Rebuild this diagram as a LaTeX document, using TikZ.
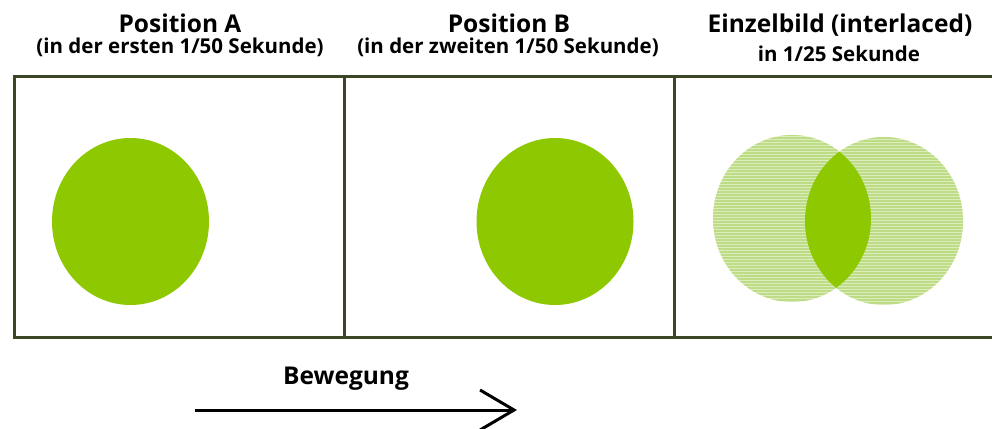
\documentclass[tikz,border=0pt]{standalone}
\usepackage{fontspec}
\setmainfont{Open Sans}
\usetikzlibrary{arrows.meta}
\definecolor{framegreen}{HTML}{3A4726}
\definecolor{ballgreen}{HTML}{8DC800}
\definecolor{palegreen}{HTML}{DCEDBC}
\definecolor{stripegreen}{HTML}{BEDC86}
\tikzset{
  title/.style={font=\bfseries\fontsize{24.5}{28}\selectfont, anchor=base, inner sep=0pt},
  subtitle/.style={font=\bfseries\fontsize{20.5}{23}\selectfont, anchor=base, inner sep=0pt},
  frameline/.style={draw=framegreen, line width=3pt},
  ball/.style={fill=ballgreen},
}
\begin{document}
\begin{tikzpicture}[x=1pt,y=-1pt]
\useasboundingbox (0,0) rectangle (992,428);
\fill[white] (0,0) rectangle (992,428);

% headings
\node[title] (ta) at (180,33) {Position A};
\node[subtitle] (sa) at (180,53) {(in der ersten 1/50 Sekunde)};
\node[title] (tb) at (509,33) {Position B};
\node[subtitle] (sb) at (508,53) {(in der zweiten 1/50 Sekunde)};
\node[title] (tc) at (840,33) {Einzelbild (interlaced)};
\node[subtitle] (sc) at (839,62) {in 1/25 Sekunde};

% panel frame, open at the right
\draw[frameline] (992,76) -- (14,76) -- (14,337) -- (992,337);
\draw[frameline] (344,76) -- (344,337);
\draw[frameline] (674,76) -- (674,337);

% field A and field B
\fill[ball] (130.5,221.5) ellipse [x radius=78.5, y radius=83.5];
\fill[ball] (555,221.5) ellipse [x radius=78.5, y radius=83.5];

% interlaced frame: both fields striped, overlap solid
\begin{scope}
  \clip (792,218.5) ellipse [x radius=79, y radius=83.5]
        (884,221) ellipse [x radius=79, y radius=84];
  \fill[palegreen] (700,120) rectangle (980,320);
  \foreach \yy in {120,123,...,320} {
    \draw[stripegreen, line width=1.5pt] (700,\yy) -- (980,\yy);
  }
\end{scope}
\begin{scope}
  \clip (792,218.5) ellipse [x radius=79, y radius=83.5];
  \fill[ball] (884,221) ellipse [x radius=79, y radius=84];
\end{scope}

% motion arrow
\node[title] (bew) at (346,384) {Bewegung};
\coordinate (mstart) at (195,410);
\coordinate (mend) at (517,410);
\draw[line width=3pt, -{Straight Barb[length=34pt, width=40pt, line width=3pt]}] (mstart) -- (mend);
\end{tikzpicture}
\end{document}
